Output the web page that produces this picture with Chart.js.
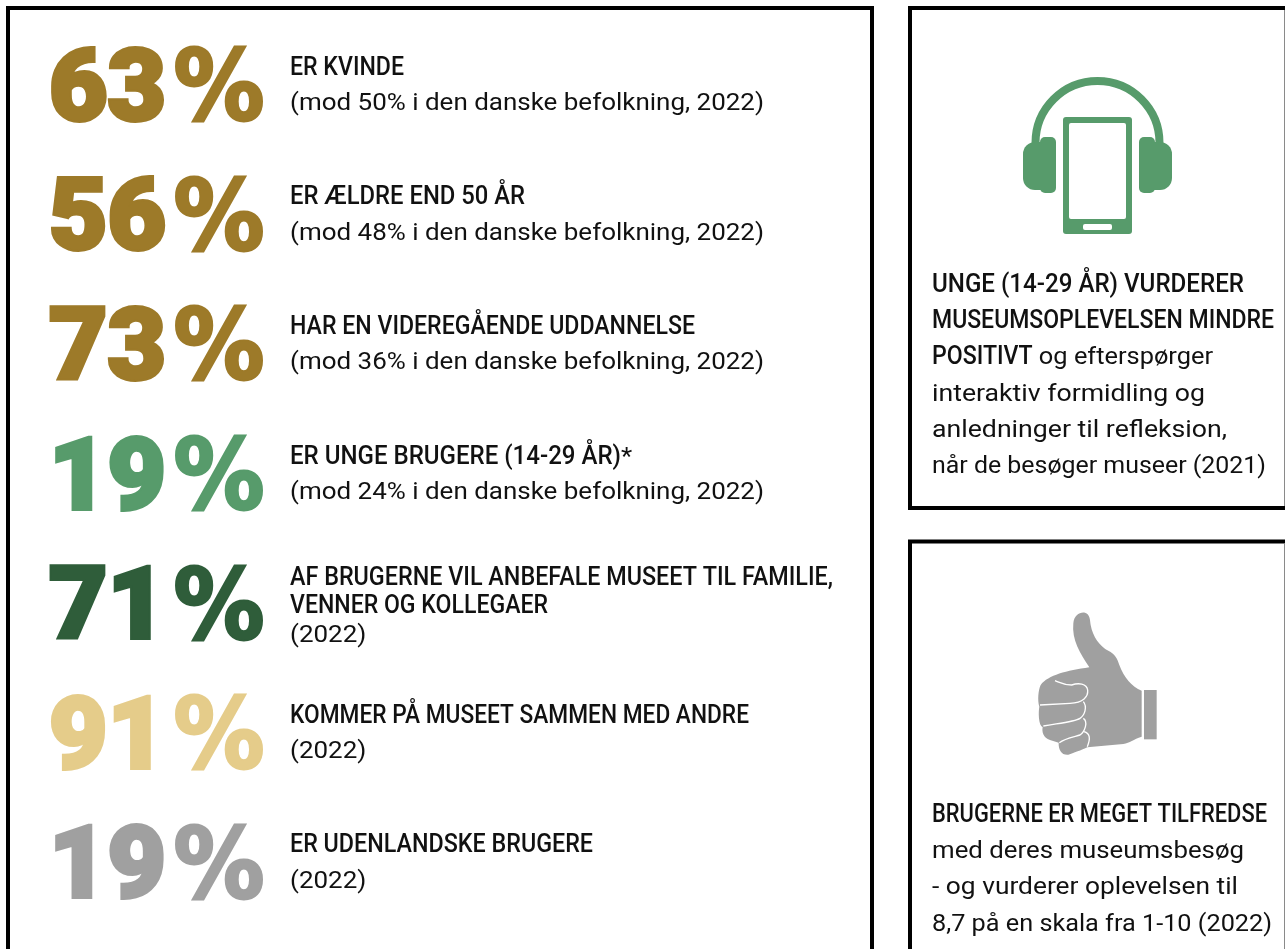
<!DOCTYPE html>
<html lang="da">
<head>
<meta charset="utf-8">
<title>Museumsbrugere</title>
<script src="https://cdn.jsdelivr.net/npm/chart.js@4/dist/chart.umd.min.js"></script>
<style>
  html, body { margin: 0; padding: 0; background: #fff; overflow: hidden; }
  canvas { display: block; }
</style>
</head>
<body>
<canvas id="chart" width="1285" height="949"></canvas>
<script>
// Seven headline shares, one row each.
const rows = ["Kvinder", "Over 50", "Videregående", "Unge", "Anbefaler", "Sammen med andre", "Udenlandske"];
const values = [63, 56, 73, 19, 71, 91, 19];
const rowColors = ["#9d7a29", "#9d7a29", "#9d7a29", "#579b6b", "#2f5d3a", "#e5cc8a", "#a0a0a0"];

const headlines = [
  ["ER KVINDE"],
  ["ER ÆLDRE END 50 ÅR"],
  ["HAR EN VIDEREGÅENDE UDDANNELSE"],
  ["ER UNGE BRUGERE (14-29 ÅR)"],
  ["AF BRUGERNE VIL ANBEFALE MUSEET TIL FAMILIE,", "VENNER OG KOLLEGAER"],
  ["KOMMER PÅ MUSEET SAMMEN MED ANDRE"],
  ["ER UDENLANDSKE BRUGERE"],
];
const notes = [
  "(mod 50% i den danske befolkning, 2022)",
  "(mod 48% i den danske befolkning, 2022)",
  "(mod 36% i den danske befolkning, 2022)",
  "(mod 24% i den danske befolkning, 2022)",
  "(2022)",
  "(2022)",
  "(2022)",
];

// Side panels: [bold part, regular part] per line
const youngLines = [
  ["UNGE (14-29 ÅR) VURDERER", ""],
  ["MUSEUMSOPLEVELSEN MINDRE", ""],
  ["POSITIVT", " og efterspørger"],
  ["", "interaktiv formidling og"],
  ["", "anledninger til refleksion,"],
  ["", "når de besøger museer (2021)"],
];
const happyLines = [
  ["BRUGERNE ER MEGET TILFREDSE", ""],
  ["", "med deres museumsbesøg"],
  ["", "- og vurderer oplevelsen til"],
  ["", "8,7 på en skala fra 1-10 (2022)"],
];

const INK = "#111";
const HEAD = { font: "500 25px Roboto", sx: 0.926 };
const BODY = { font: "400 24px Roboto", sx: 1.082 };
const SIDE_HEAD = { font: "500 25px Roboto", sx: 0.925 };
const SIDE_BODY = { font: "400 24px Roboto", sx: 1.05 };

// Layout only: where each line has to end, the fonts here are not the original's
const headEnds = [[404], [525], [695], [621], [833, 548], [749], [593]];
const youngEnds = [1244, 1274, 1213, 1205, 1227, 1266];
const happyEnds = [1267, 1244, 1238, 1272];

// Draws one text run squeezed to fit, returns the x where it ends
function put(ctx, str, x, y, style, endX) {
  ctx.save();
  ctx.font = style.font;
  ctx.fillStyle = INK;
  ctx.textAlign = "left";
  ctx.textBaseline = "alphabetic";
  const natural = ctx.measureText(str).width;
  const sx = endX ? (endX - x) / natural : style.sx;
  ctx.translate(x, y);
  ctx.scale(sx, 1);
  ctx.fillText(str, 0, 0);
  ctx.restore();
  return x + natural * sx;
}

function drawBoxes(ctx) {
  ctx.save();
  ctx.strokeStyle = "#000";
  ctx.lineWidth = 4;
  ctx.strokeRect(8, 8, 864, 960);
  ctx.strokeRect(910, 8, 400, 500);
  ctx.strokeRect(910, 541.5, 400, 460);
  // the right panels only show a hairline at the page edge
  ctx.fillStyle = "#8a8a8a";
  ctx.fillRect(1284, 10, 1, 496);
  ctx.fillRect(1284, 544, 1, 405);
  ctx.restore();
}

function drawPhoneIcon(ctx) {
  const c = "#579b6b";
  ctx.save();
  ctx.fillStyle = c;
  ctx.strokeStyle = c;
  // headband
  ctx.lineWidth = 8;
  ctx.beginPath();
  ctx.arc(1097.5, 143, 62, Math.PI, 0);
  ctx.stroke();
  // ear cups
  ctx.beginPath(); ctx.roundRect(1023, 142, 24, 48, [12, 0, 0, 12]); ctx.fill();
  ctx.beginPath(); ctx.roundRect(1040, 137, 16, 56, 5); ctx.fill();
  ctx.beginPath(); ctx.roundRect(1148, 142, 24, 48, [0, 12, 12, 0]); ctx.fill();
  ctx.beginPath(); ctx.roundRect(1139, 137, 16, 56, 5); ctx.fill();
  // phone
  ctx.beginPath(); ctx.roundRect(1063, 117, 69, 117, 3); ctx.fill();
  ctx.fillStyle = "#fff";
  ctx.beginPath(); ctx.roundRect(1069, 123, 57, 96, 2); ctx.fill();
  ctx.beginPath(); ctx.roundRect(1083, 224, 29, 6, 2); ctx.fill();
  ctx.restore();
}

function drawThumbIcon(ctx) {
  // traced in the 3x crop, hence the scale
  const hand = new Path2D("M268 232C240 190 215 150 220 100C222 75 240 65 255 68C270 72 270 90 272 105C278 140 300 170 325 182C345 192 352 205 358 225C372 262 395 290 425 302L425 440C400 448 390 458 370 462L262 472C250 478 235 484 205 494C185 496 175 480 176 458L150 450C130 445 125 425 128 412C115 405 115 365 118 350C112 330 115 300 122 285C145 255 200 242 268 232Z");
  const creases = new Path2D("M165 272C185 280 190 285 215 285C235 278 260 280 263 300C265 320 250 338 210 340L120 345M250 335C262 350 255 375 240 385C225 395 190 398 130 408M250 385C265 395 255 425 240 435C225 440 195 445 178 458M252 425C270 430 272 445 262 470");
  ctx.save();
  ctx.translate(1000, 590);
  ctx.scale(1 / 3, 1 / 3);
  ctx.fillStyle = "#a0a0a0";
  ctx.fill(hand);
  ctx.fillRect(432, 300, 38, 148);
  ctx.strokeStyle = "#fff";
  ctx.lineWidth = 4;
  ctx.stroke(creases);
  ctx.restore();
}

function drawSidePanel(ctx, lines, ends, firstBaseline) {
  lines.forEach((line, i) => {
    const y = firstBaseline + i * 36.2;
    let x = 932;
    if (line[0]) x = put(ctx, line[0], x, y, SIDE_HEAD, line[1] ? null : ends[i]);
    if (line[1]) put(ctx, line[1], x, y, SIDE_BODY, ends[i]);
  });
}

// Big percentages and their captions, hung on the category scale's rows
const infographic = {
  id: "infographic",
  afterDatasetsDraw(chart) {
    const ctx = chart.ctx;
    const points = chart.getDatasetMeta(0).data;
    drawBoxes(ctx);

    values.forEach((v, i) => {
      const cy = points[i].y;
      const color = rowColors[i];
      ctx.save();
      ctx.fillStyle = color;
      ctx.strokeStyle = color;
      ctx.lineJoin = "miter";
      ctx.textBaseline = "alphabetic";
      // digits, fattened with a stroke
      ctx.save();
      ctx.font = "900 100px Roboto";
      ctx.textAlign = "right";
      ctx.translate(166, cy + 36);
      ctx.scale(1.01, 1);
      ctx.lineWidth = 4;
      ctx.strokeText(String(v), 0, 0);
      ctx.fillText(String(v), 0, 0);
      ctx.restore();
      // percent sign, squeezed into its slot
      ctx.font = "700 98px 'DejaVu Sans'";
      ctx.textAlign = "left";
      ctx.translate(173.5, cy + 36.5);
      ctx.scale(91 / ctx.measureText("%").width, 1);
      ctx.lineWidth = 3;
      ctx.strokeText("%", 0, 0);
      ctx.fillText("%", 0, 0);
      ctx.restore();

      const heads = headlines[i];
      if (heads.length > 1) {
        heads.forEach((h, k) => put(ctx, h, 290, cy - 17 + k * 28, HEAD, headEnds[i][k]));
        put(ctx, notes[i], 290, cy + 40, BODY);
      } else {
        const end = put(ctx, heads[0], 290, cy - 9, HEAD, headEnds[i][0]);
        if (i === 3) put(ctx, "*", end, cy - 9, BODY);
        put(ctx, notes[i], 290, cy + 26.5, BODY);
      }
    });

    drawPhoneIcon(ctx);
    drawThumbIcon(ctx);
    drawSidePanel(ctx, youngLines, youngEnds, 292);
    drawSidePanel(ctx, happyLines, happyEnds, 822);
  },
};

new Chart(document.getElementById("chart"), {
  type: "line",
  data: {
    labels: rows,
    datasets: [{
      data: values,
      showLine: false,
      pointRadius: 0,
      pointHoverRadius: 0,
    }],
  },
  options: {
    indexAxis: "y",
    responsive: false,
    animation: false,
    events: [],
    layout: { padding: { top: 19, bottom: 23, left: 0, right: 0 } },
    plugins: { legend: { display: false }, tooltip: { enabled: false } },
    scales: {
      y: { type: "category", offset: true, display: false },
      x: { type: "linear", min: 0, max: 100, display: false },
    },
  },
  plugins: [infographic],
});
</script>
</body>
</html>
